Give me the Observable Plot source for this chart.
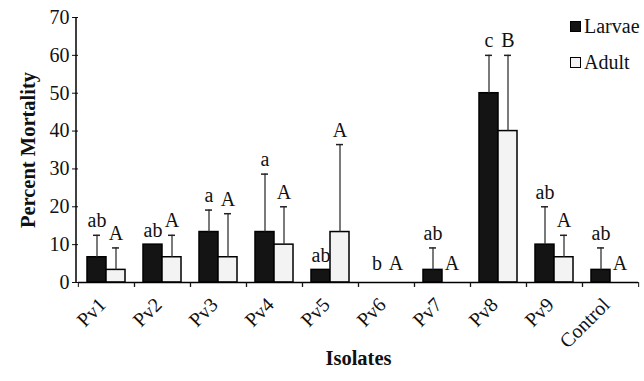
<!DOCTYPE html>
<html><head><meta charset="utf-8">
<script src="https://cdn.jsdelivr.net/npm/d3@7"></script>
<script src="https://cdn.jsdelivr.net/npm/@observablehq/plot@0.6"></script>
<style>
body{margin:0;background:#fff;}
#wrap{position:relative;width:644px;height:381px;font-family:"Liberation Serif",serif;color:#111;}
.lg{position:absolute;left:570px;font-family:"Liberation Serif",serif;font-size:20px;line-height:20px;white-space:nowrap;display:flex;align-items:center;}
.sw{display:inline-block;width:9px;height:9px;border:1.5px solid #000;margin-right:3px;}
</style></head><body><div id="wrap"></div>
<script>
const isolates = ["Pv1","Pv2","Pv3","Pv4","Pv5","Pv6","Pv7","Pv8","Pv9","Control"];
const stages = ["Larvae","Adult"];
const larvae = [6.67,10,13.33,13.33,3.33,0,3.33,50,10,3.33];
const larvaeErr = [5.8,0,5.8,15.3,0,0,5.8,10,10,5.8];
const adult = [3.33,6.67,6.67,10,13.33,0,0,40,6.67,0];
const adultErr = [5.8,5.8,11.5,10,23.1,0,0,20,5.8,0];
const larvaeLetters = ["ab","ab","a","a","ab","b","ab","c","ab","ab"];
const adultLetters = ["A","A","A","A","A","A","A","B","A","A"];
const yTicks = [0,10,20,30,40,50,60,70];

const data = isolates.flatMap((iso,i)=>[
  {isolate:iso, stage:"Larvae", value:larvae[i], err:larvaeErr[i], letter:larvaeLetters[i]},
  {isolate:iso, stage:"Adult", value:adult[i], err:adultErr[i], letter:adultLetters[i]}
]);
const W=644,H=381,mL=76,mR=5,mT=17,mB=99;
const bw=(W-mL-mR)/isolates.length;
const withErr=data.filter(d=>d.err>0);
const errTop=d=>d.value+d.err;

const chart = Plot.plot({
  width:W,height:H,marginLeft:mL,marginRight:mR,marginTop:mT,marginBottom:mB,
  style:{fontFamily:"Liberation Serif",fontSize:"20px",color:"#111",background:"#fff"},
  fx:{domain:isolates,padding:0},
  x:{domain:stages,paddingInner:0,paddingOuter:0.41,axis:null},
  y:{domain:[0,70]},
  color:{domain:stages,range:["#141414","#f3f3f3"]},
  marks:[
    Plot.barY(data,{fx:"isolate",x:"stage",y:"value",fill:"stage",stroke:"#000",strokeWidth:1.5}),
    Plot.ruleX(withErr,{fx:"isolate",x:"stage",y1:"value",y2:errTop,stroke:"#333",strokeWidth:1.3}),
    Plot.tickY(withErr,{fx:"isolate",x:"stage",y:errTop,insetLeft:6,insetRight:6,stroke:"#222",strokeWidth:1.5}),
    Plot.text(data.filter(d=>errTop(d)>0),{fx:"isolate",x:"stage",y:errTop,text:"letter",lineAnchor:"bottom",dy:-8,fontSize:20,fill:"#111"}),
    Plot.text(data.filter(d=>errTop(d)===0),{fx:"isolate",x:"stage",y:errTop,text:"letter",lineAnchor:"bottom",dy:-13,fontSize:20,fill:"#111"}),
    Plot.ruleY([0],{stroke:"#000",strokeWidth:1.5}),
    Plot.axisY({ticks:yTicks,tickSize:6,tickPadding:3,fontSize:20,label:"Percent Mortality",labelAnchor:"center",labelArrow:"none",labelOffset:58}),
    Plot.axisFx({anchor:"bottom",tickSize:0,tickRotate:-45,tickPadding:19,dx:-4,fontSize:20,label:null}),
    Plot.axisFx({anchor:"bottom",ticks:[],tickSize:0,label:"Isolates",labelAnchor:"center",labelArrow:"none",labelOffset:82}),
    Plot.axisFx({anchor:"bottom",text:null,tickSize:5,dx:-bw/2,label:null}),
    Plot.axisFx(["Control"],{anchor:"bottom",text:null,tickSize:5,dx:bw/2,label:null})
  ]
});
const svg=d3.select(chart);
svg.selectAll('g[aria-label="y-axis label"], g[aria-label="fx-axis label"]').attr("font-weight","bold").attr("font-size","20.5px");
const ys=chart.scale("y");
svg.append("line").attr("x1",mL).attr("x2",mL).attr("y1",ys.range[0]).attr("y2",ys.range[1]).attr("stroke","#000").attr("stroke-width",1.5);
const wrap=document.getElementById("wrap");
wrap.appendChild(chart);
const legend=[{label:"Larvae",fill:"#141414",pos:16},{label:"Adult",fill:"#f3f3f3",pos:52}];
for(const l of legend){
  const d=document.createElement("div");d.className="lg";d.style.top=l.pos+"px";
  const s=document.createElement("span");s.className="sw";s.style.background=l.fill;
  d.appendChild(s);d.appendChild(document.createTextNode(l.label));wrap.appendChild(d);
}
</script></body></html>
